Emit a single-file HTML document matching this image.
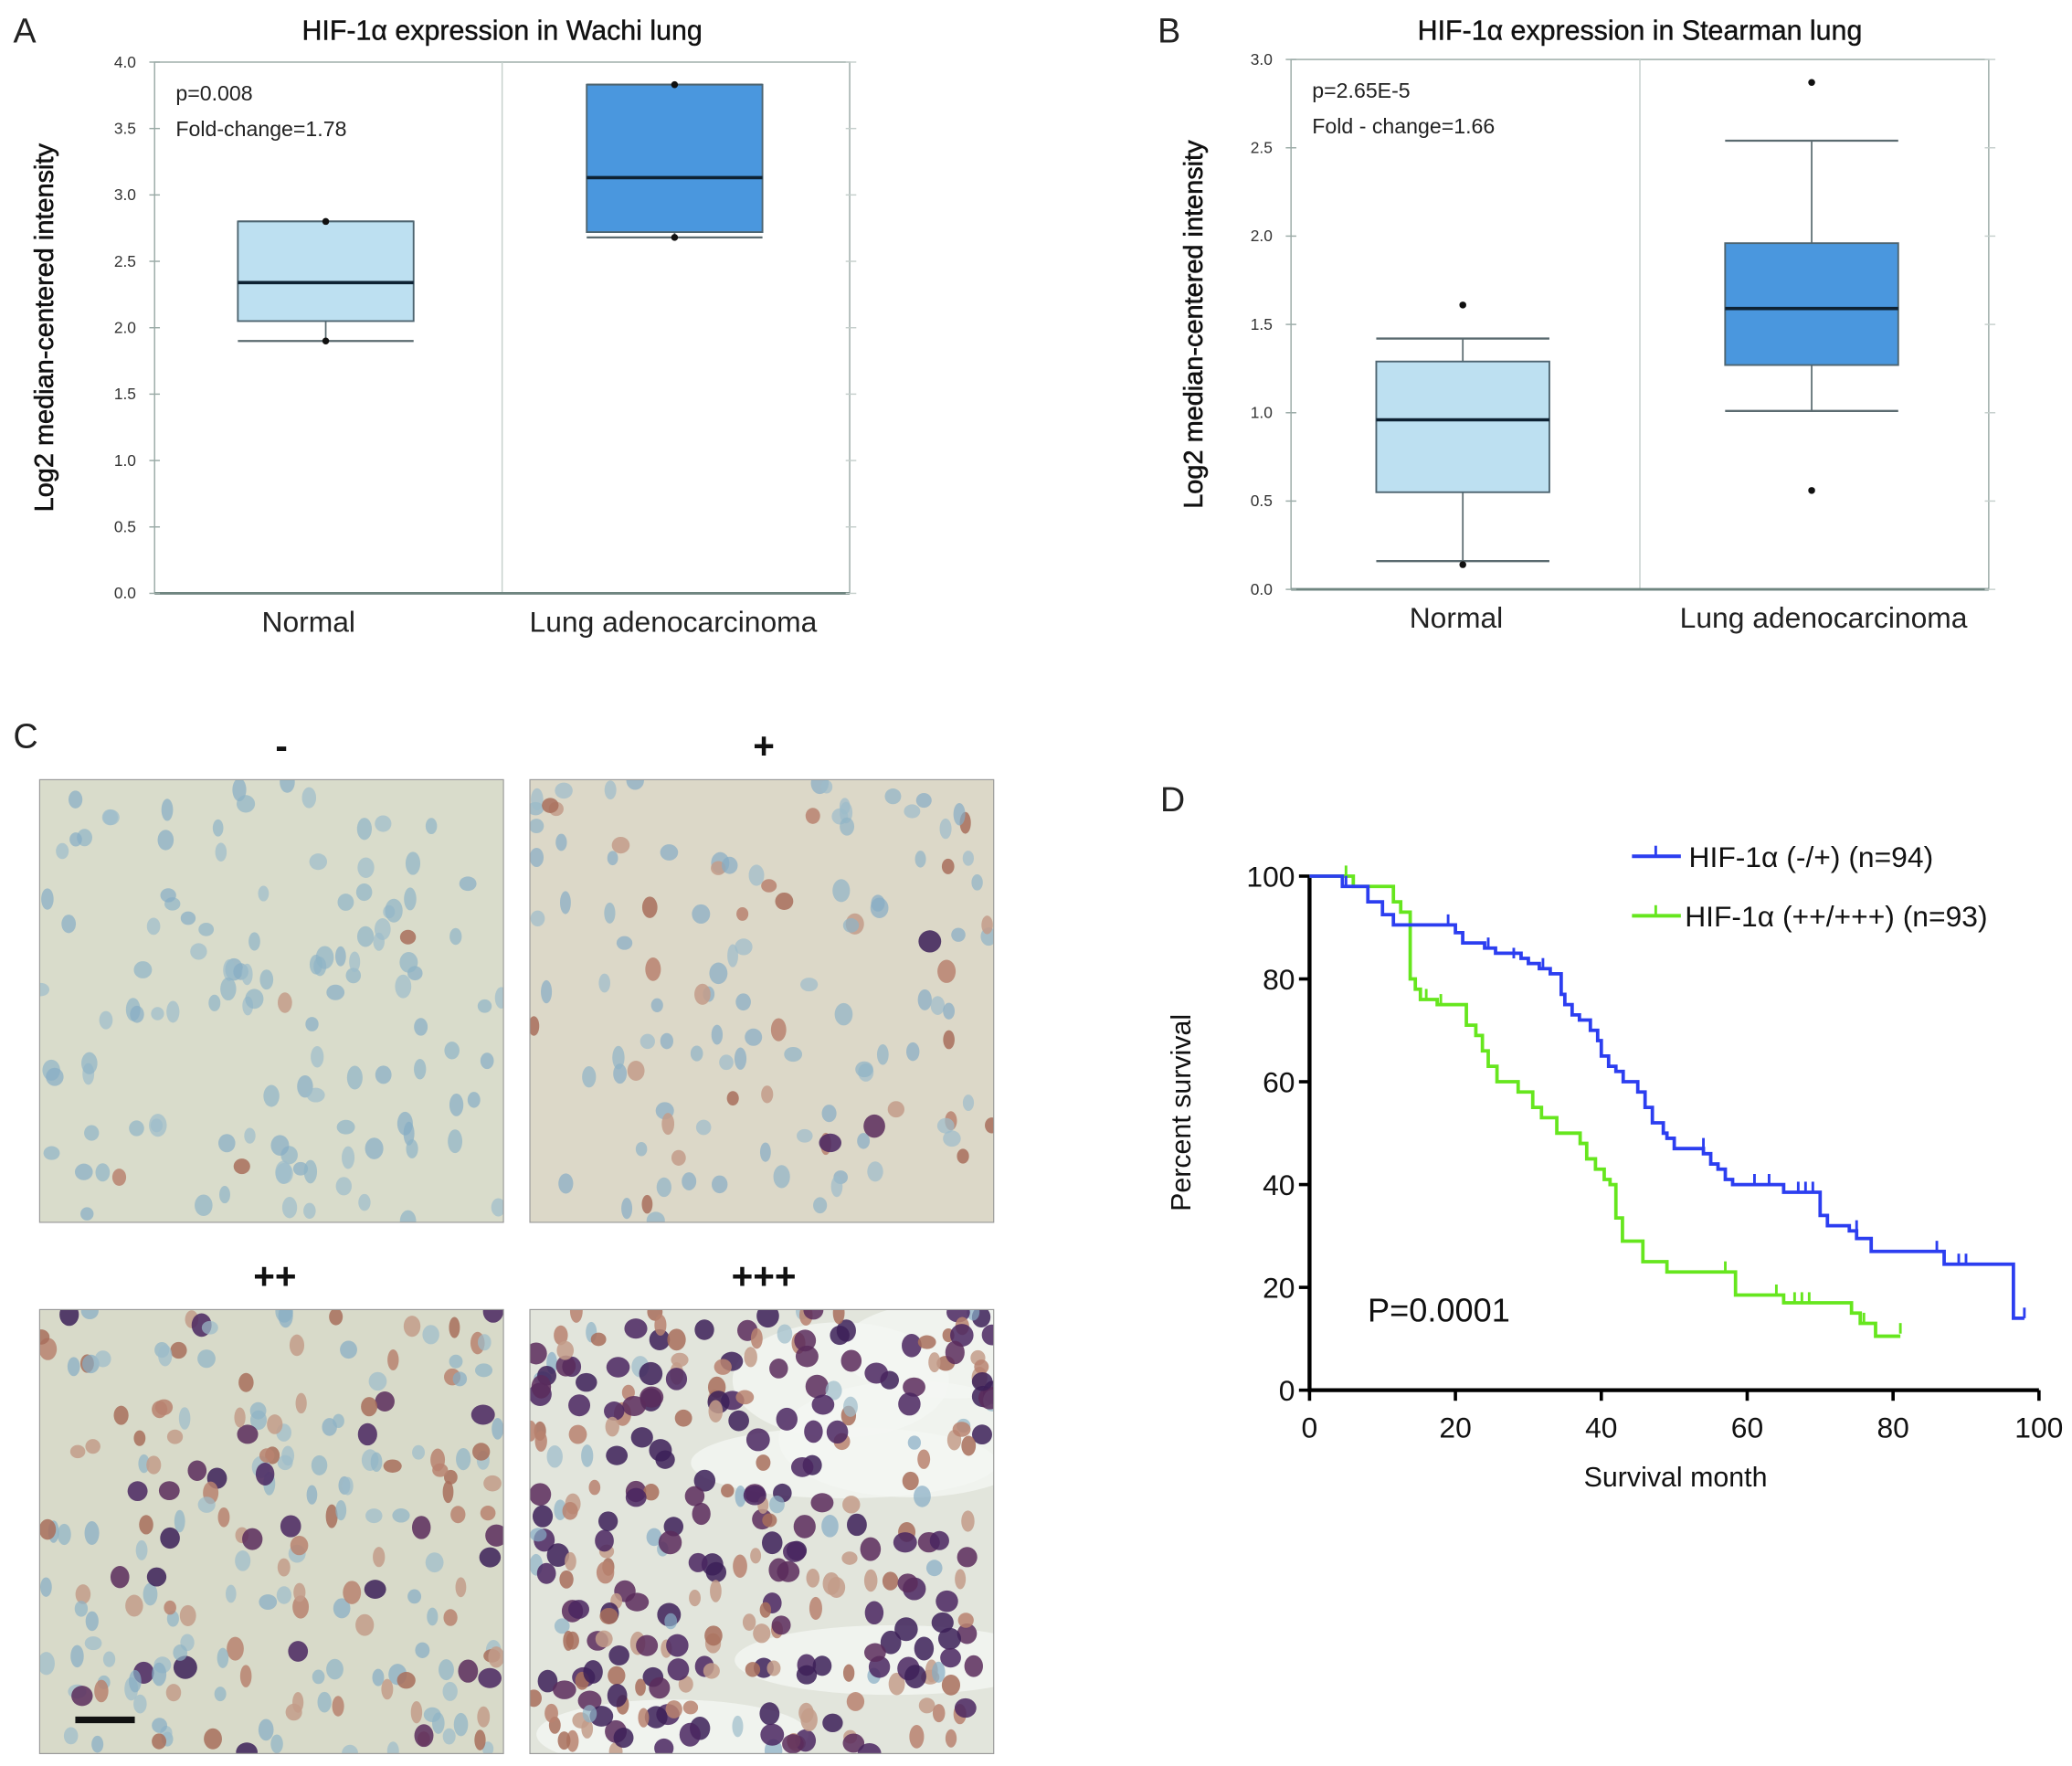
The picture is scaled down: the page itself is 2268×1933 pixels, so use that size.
<!DOCTYPE html>
<html><head><meta charset="utf-8"><style>
html,body{margin:0;padding:0;background:#fff;}
svg{display:block;}
text{font-family:"Liberation Sans",sans-serif;}
</style></head><body>
<svg id="fig" xmlns="http://www.w3.org/2000/svg" width="2268" height="1933" viewBox="0 0 1568 1336.4">
<defs>
<clipPath id="c1"><rect x="30" y="590" width="351" height="335"/></clipPath>
<clipPath id="c2"><rect x="401" y="590" width="351" height="335"/></clipPath>
<clipPath id="c3"><rect x="30" y="991" width="351" height="336"/></clipPath>
<clipPath id="c4"><rect x="401" y="991" width="351" height="336"/></clipPath>
</defs>
<g id="panelA"></g>
<g id="panelB"></g>
<g id="panelC"></g>
<g id="panelD"></g>
</svg>
<script>
// ---- Panel A data ----
const catsA = ["Normal", "Lung adenocarcinoma"];
const q1A = [2.05, 2.72];
const medA = [2.34, 3.13];
const q3A = [2.80, 3.83];
const wloA = [1.90, 2.68];
const whiA = [2.80, 3.83];
const outA = [[2.80, 1.90], [3.83, 2.68]];
const ticksA = [0.0, 0.5, 1.0, 1.5, 2.0, 2.5, 3.0, 3.5, 4.0];
// ---- Panel B data ----
const catsB = ["Normal", "Lung adenocarcinoma"];
const q1B = [0.55, 1.27];
const medB = [0.96, 1.59];
const q3B = [1.29, 1.96];
const wloB = [0.16, 1.01];
const whiB = [1.42, 2.54];
const outB = [[1.61, 0.14], [2.87, 0.56]];
const ticksB = [0.0, 0.5, 1.0, 1.5, 2.0, 2.5, 3.0];
// ---- Panel D data ----
const blueT = [4.5,8,10,11.5,20,21,24,25.5,29,30,31.5,33,34.5,35,36,37,38.5,39.5,40,41,42,43,45,46,47,48.5,49,50,54,55,56,57,58,65,70,71,74,75,77,87,96.5];
const blueS = [98,95,92.5,90.5,89,87,86,85,84,83,82,81,77,75,73,72,70,68,65,63,62,60,58,55,52,50,49,47,46,44,43,41,40,38.5,34,32,31,29.5,27,24.5,14];
const blueEnd = 98;
const blueCT = [5,19,24.5,28,32,54,61,63,67,68,69,75,86,89,90,98];
const blueCS = [98,90.5,86,84,82,47,40,40,38.5,38.5,38.5,31,27,24.5,24.5,14];
const greenT = [6,11.5,12.5,13.8,14.5,15.2,17.5,21.5,22.8,23.7,24.5,25.7,28.6,30.6,31.8,33.9,37.1,38,39.2,40.4,41.2,42,42.9,45.7,49,58.4,65,74.3,75.5,77.6];
const greenS = [98,95,93,80,78,76,75,71,69,66,63,60,58,55,53,50,48,45,43,41,40,33.5,29,25,23,18.5,17,15,13,10.5];
const greenEnd = 81;
const greenCT = [5,13.8,16,18,57,64,66.5,67.5,68.5,76,81];
const greenCS = [100,91,76,75,23,18.5,17,17,17,13,11];
const xTicksD = [0,20,40,60,80,100];
const yTicksD = [0,20,40,60,80,100];

const NS = "http://www.w3.org/2000/svg";
function mk(parent, tag, attrs, txt){
  const e = document.createElementNS(NS, tag);
  for (const k in attrs) e.setAttribute(k, attrs[k]);
  if (txt !== undefined) e.textContent = txt;
  parent.appendChild(e);
  return e;
}

function boxPanel(gid, letter, title, cats, q1, med, q3, wlo, whi, outs, ticks, geo, pText, fText){
  const g = document.getElementById(gid);
  const y = v => geo.y0 - (v - ticks[0]) / (ticks[ticks.length-1] - ticks[0]) * (geo.y0 - geo.y1);
  let t = mk(g,'text',{x:geo.letterX,y:32,'font-size':26,fill:'#222'},letter);
   
  t = mk(g,'text',{x:(geo.x0+geo.x1)/2,y:30,'font-size':21,'text-anchor':'middle',fill:'#111','stroke':'#111','stroke-width':0.3},title);
   
  let r = mk(g,'rect',{x:geo.x0,y:geo.y1,width:geo.x1-geo.x0,height:geo.y0-geo.y1,fill:'none',stroke:'#9aaaa6','stroke-width':1});
   
  const mid = (geo.x0+geo.x1)/2;
  let d = mk(g,'line',{x1:mid,x2:mid,y1:geo.y1,y2:geo.y0,stroke:'#c5cfcc','stroke-width':1});
   
  let ax = mk(g,'line',{x1:geo.x0,x2:geo.x1,y1:geo.y0,y2:geo.y0,stroke:'#6f8580','stroke-width':2});
   
  ticks.forEach(v=>{
    const tl = mk(g,'text',{x:geo.x0-14,y:y(v)+4,'font-size':12,'text-anchor':'end',fill:'#333','font-family':'Liberation Serif, serif'},v.toFixed(1));
     
    const tk = mk(g,'line',{x1:geo.x0-4,x2:geo.x0+4,y1:y(v),y2:y(v),stroke:'#9aaaa6'});
     
    const tk2 = mk(g,'line',{x1:geo.x1-3,x2:geo.x1+5,y1:y(v),y2:y(v),stroke:'#c5cfcc'});
     
  });
  const yl = mk(g,'text',{x:0,y:0,'font-size':20,'text-anchor':'middle',fill:'#111','stroke':'#111','stroke-width':0.4,transform:`translate(${geo.ylabX},${(geo.y0+geo.y1)/2}) rotate(-90)`},'Log2 median-centered intensity');
   
  const pt = mk(g,'text',{x:geo.x0+16,y:geo.y1+29,'font-size':16,fill:'#222'},pText);
   
  const ft = mk(g,'text',{x:geo.x0+16,y:geo.y1+56,'font-size':16,fill:'#222'},fText);
   
  const fills = ['#bde0f1','#4a97de'];
  const bw = (geo.x1-geo.x0)/2;
  cats.forEach((c,i)=>{
    const cx = geo.x0 + bw*(i+0.5) + geo.shift[i];
    const hw = geo.boxW/2;
    const wl = mk(g,'line',{x1:cx,x2:cx,y1:y(whi[i]),y2:y(wlo[i]),stroke:'#5b6b70','stroke-width':1.2});
     
    [wlo[i],whi[i]].forEach(v=>{
      const cap = mk(g,'line',{x1:cx-hw,x2:cx+hw,y1:y(v),y2:y(v),stroke:'#5b6b70','stroke-width':1.6});
       
    });
    const b = mk(g,'rect',{x:cx-hw,y:y(q3[i]),width:geo.boxW,height:y(q1[i])-y(q3[i]),fill:fills[i],stroke:'#4d6470','stroke-width':1.3});
     
    const m = mk(g,'line',{x1:cx-hw,x2:cx+hw,y1:y(med[i]),y2:y(med[i]),stroke:'#0e2233','stroke-width':2.5});
     
    outs[i].forEach(v=>{
      const o = mk(g,'circle',{cx:cx,cy:y(v),r:2.6,fill:'#111'});
       
    });
    const xl = mk(g,'text',{x:geo.x0 + bw*(i+0.5) + geo.labShift[i],y:geo.y0+29,'font-size':22,'text-anchor':'middle',fill:'#222'},c);
     
  });
}
boxPanel('panelA','A','HIF-1α expression in Wachi lung',catsA,q1A,medA,q3A,wloA,whiA,outA,ticksA,
  {x0:117,x1:643,y0:449,y1:47,letterX:10,ylabX:40,boxW:133,shift:[-2,-1],labShift:[-15,-2]},'p=0.008','Fold-change=1.78');
boxPanel('panelB','B','HIF-1α expression in Stearman lung',catsB,q1B,medB,q3B,wloB,whiB,outB,ticksB,
  {x0:977,x1:1505,y0:446,y1:45,letterX:876,ylabX:910,boxW:131,shift:[-2,-2],labShift:[-7,7]},'p=2.65E-5','Fold - change=1.66');

// ---- Panel C: IHC images (decorative, seeded texture) ----
(function(){
  const g = document.getElementById('panelC');
  let t = mk(g,'text',{x:10,y:566,'font-size':26,fill:'#222'},'C');
   
  const labs = [['-',213,574],['+',578,574],['++',208,975],['+++',578,975]];
  labs.forEach(l=>{
    const e = mk(g,'text',{x:l[1],y:l[2],'font-size':28,'font-weight':'bold','text-anchor':'middle',fill:'#111'},l[0]);
     
  });
  let seed = 12345;
  const rnd = ()=>{ seed = (seed*1103515245+12345) % 2147483648; return seed/2147483648; };
  const panels = [
    {x:30,y:590,h:335,bg:'#d9dccb',n:120,mix:[0.97,0.03,0],clip:'c1'},
    {x:401,y:590,h:335,bg:'#dcd8c8',n:120,mix:[0.75,0.22,0.03],clip:'c2'},
    {x:30,y:991,h:336,bg:'#d8dac9',n:200,mix:[0.55,0.33,0.12],clip:'c3'},
    {x:401,y:991,h:336,bg:'#e2e5dc',n:300,mix:[0.1,0.4,0.5],clip:'c4'}
  ];
  const cols = [['#8fb3c6','#86acc4','#9cbccb'],['#b98370','#a86e5c','#c39c8a'],['#3c2058','#4a2660','#5a2c5c']];
  panels.forEach((p,pi)=>{
    const pg = mk(g,'g',{'clip-path':`url(#${p.clip})`});
     
    mk(pg,'rect',{x:p.x,y:p.y,width:351,height:p.h,fill:p.bg});
    if(pi===3){
      for(let k=0;k<6;k++) mk(pg,'ellipse',{cx:p.x+rnd()*351,cy:p.y+rnd()*p.h,rx:60+rnd()*60,ry:25+rnd()*25,fill:'#f4f6f2',opacity:0.8});
    }
    for(let k=0;k<p.n;k++){
      const r = rnd(); const ty = r<p.mix[0]?0:(r<p.mix[0]+p.mix[1]?1:2);
      const c = cols[ty][Math.floor(rnd()*3)];
      const rx = ty===2?7+rnd()*2:4+rnd()*3, ry = ty===2?7+rnd()*2:5+rnd()*4;
      mk(pg,'ellipse',{cx:p.x+rnd()*351,cy:p.y+rnd()*p.h,rx:rx,ry:ry,fill:c,opacity:ty===0?0.7:0.85});
    }
    const fr = mk(g,'rect',{x:p.x,y:p.y,width:351,height:p.h,fill:'none',stroke:'#999','stroke-width':0.8});
     
  });
  const sb = mk(g,'rect',{x:57,y:1299,width:45,height:5,fill:'#111'});
   
})();

// ---- Panel D: Kaplan-Meier ----
(function(){
  const g = document.getElementById('panelD');
  const X0=991, X1=1543, Y0=1052, Y1=663;
  const x = v => X0 + v/100*(X1-X0);
  const y = v => Y0 - v/100*(Y0-Y1);
  let t = mk(g,'text',{x:878,y:614,'font-size':26,fill:'#222'},'D');
   
  const ax = mk(g,'path',{d:`M${X0},${Y1} V${Y0} H${X1}`,fill:'none',stroke:'#000','stroke-width':3});
   
  xTicksD.forEach(v=>{
    const tk = mk(g,'line',{x1:x(v),x2:x(v),y1:Y0,y2:Y0+8,stroke:'#000','stroke-width':2.5});
     
    const tl = mk(g,'text',{x:x(v),y:Y0+36,'font-size':22,'text-anchor':'middle',fill:'#111'},String(v));
     
  });
  yTicksD.forEach(v=>{
    const tk = mk(g,'line',{x1:X0-8,x2:X0,y1:y(v),y2:y(v),stroke:'#000','stroke-width':2.5});
     
    const tl = mk(g,'text',{x:X0-11,y:y(v)+8,'font-size':22,'text-anchor':'end',fill:'#111'},String(v));
     
  });
  const xt = mk(g,'text',{x:1268,y:1125,'font-size':21,'text-anchor':'middle',fill:'#111'},'Survival month');
   
  const yt = mk(g,'text',{x:0,y:0,'font-size':21,'text-anchor':'middle',fill:'#111',transform:`translate(901,842) rotate(-90)`},'Percent survival');
   
  const pv = mk(g,'text',{x:1035,y:1000,'font-size':25,fill:'#111'},'P=0.0001');
   
  function curve(T,S,end,CT,CS,col,name){
    let d = `M${x(0)},${y(100)}`;
    T.forEach((tv,i)=>{ d += ` H${x(tv)} V${y(S[i])}`; });
    d += ` H${x(end)}`;
    const p = mk(g,'path',{d:d,fill:'none',stroke:col,'stroke-width':2.6});
     
    CT.forEach((tv,i)=>{
      const c = mk(g,'line',{x1:x(tv),x2:x(tv),y1:y(CS[i]),y2:y(CS[i])-8,stroke:col,'stroke-width':2});
       
    });
  }
  curve(greenT,greenS,greenEnd,greenCT,greenCS,'#66e61e','survival-curve-high');
  curve(blueT,blueS,blueEnd,blueCT,blueCS,'#2c3ef0','survival-curve-low');
  const leg = [['#2c3ef0',648,'HIF-1α (-/+) (n=94)',1278],['#66e61e',693,'HIF-1α (++/+++) (n=93)',1275]];
  leg.forEach(l=>{
    const ln = mk(g,'line',{x1:1235,x2:1272,y1:l[1],y2:l[1],stroke:l[0],'stroke-width':2.8});
     
    const tk = mk(g,'line',{x1:1253,x2:1253,y1:l[1],y2:l[1]-8,stroke:l[0],'stroke-width':2});
     
    const tx = mk(g,'text',{x:l[3],y:l[1]+8,'font-size':22,fill:'#111'},l[2]);
     
  });
})();
</script>
</body></html>
